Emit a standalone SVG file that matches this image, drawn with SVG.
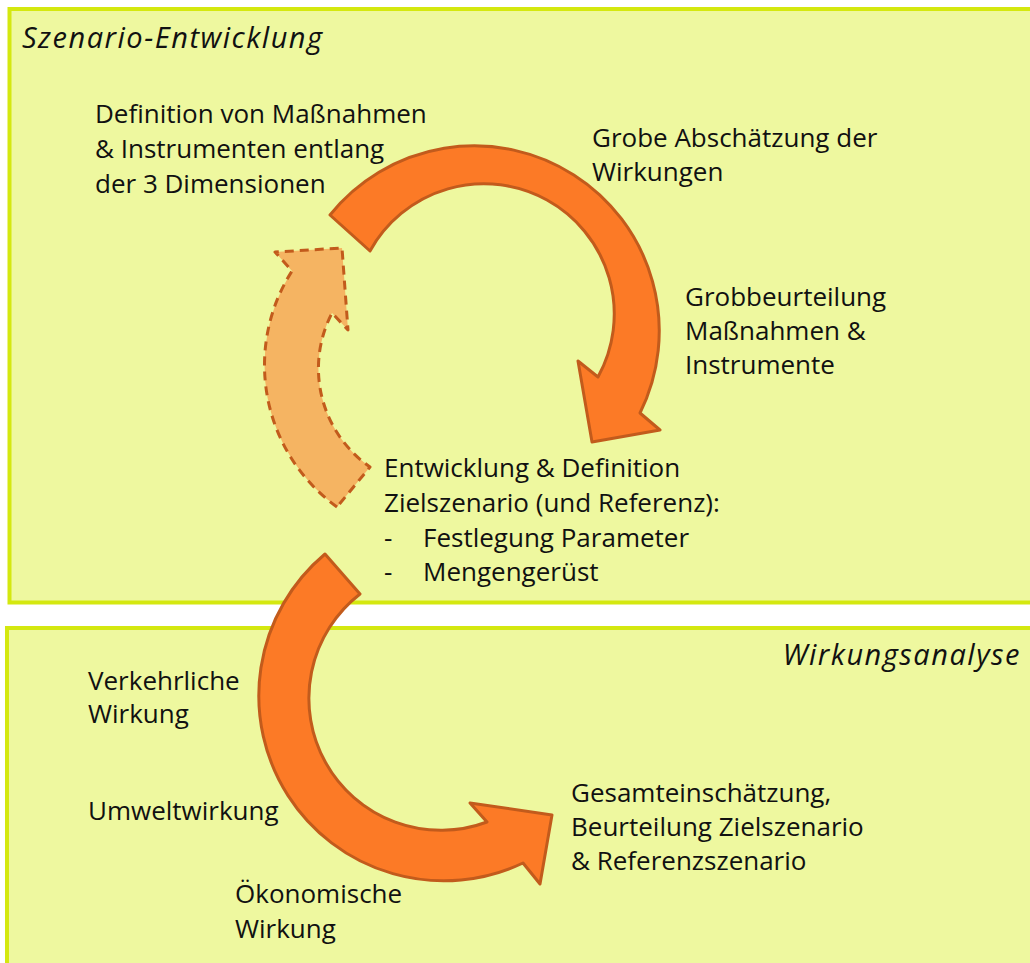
<svg xmlns="http://www.w3.org/2000/svg" width="1030" height="963" viewBox="0 0 1030 963">
<style>
.box{fill:#EEF89F;stroke:#D4E80F;stroke-width:4}
.t{font-family:"Open Sans","Liberation Sans",sans-serif;font-size:26px;fill:#111}
.ti{font-family:"Open Sans","Liberation Sans",sans-serif;font-size:29px;font-style:italic;letter-spacing:1.5px;fill:#111}
.arr{fill:#FC7A26;stroke:#C25B1C;stroke-width:3;stroke-linejoin:round}
.arrd{fill:#F5B462;stroke:#C25B1C;stroke-width:3;stroke-dasharray:9 6;stroke-linejoin:round}
</style>
<rect width="1030" height="963" fill="#FFFFFF"/>
<g id="box-szenario">
<rect class="box" x="9.5" y="9" width="1030" height="593.5"/>
<text class="ti" x="22" y="48">Szenario-Entwicklung</text>
</g>
<g id="box-wirkung">
<rect class="box" x="7" y="628" width="1030" height="345"/>
<text class="ti" x="1021" y="665" text-anchor="end">Wirkungsanalyse</text>
</g>
<g id="connectors">
<path id="arrow-top" class="arr" d="M330,215 A185,185 0 0 1 640,413 L660,430 L592,442 L578,361 L598,377 A128,128 0 0 0 370,251 Z"/>
<path id="arrow-left" class="arrd" d="M337,507 A175,175 0 0 1 292,271 L275,252 L342,248 L348,330 L332,313 A120,120 0 0 0 370,467 Z"/>
<path id="arrow-bottom" class="arr" d="M325,554 A185,185 0 0 0 523,863 L540,884 L552,815 L470,803 L487,822 A132,132 0 0 1 360,594 Z"/>
</g>
<g id="node-definition">
<text class="t" x="95" y="123">Definition von Maßnahmen</text>
<text class="t" x="95" y="158">&amp; Instrumenten entlang</text>
<text class="t" x="95" y="193">der 3 Dimensionen</text>
</g>
<g id="node-grobe">
<text class="t" x="592" y="147">Grobe Abschätzung der</text>
<text class="t" x="592" y="181">Wirkungen</text>
</g>
<g id="node-grobbeurteilung">
<text class="t" x="685" y="306">Grobbeurteilung</text>
<text class="t" x="685" y="340">Maßnahmen &amp;</text>
<text class="t" x="685" y="374">Instrumente</text>
</g>
<g id="node-entwicklung">
<text class="t" x="384" y="477">Entwicklung &amp; Definition</text>
<text class="t" x="384" y="512">Zielszenario (und Referenz):</text>
<text class="t" x="384" y="547">-</text>
<text class="t" x="423" y="547">Festlegung Parameter</text>
<text class="t" x="384" y="581">-</text>
<text class="t" x="423" y="581">Mengengerüst</text>
</g>
<g id="node-verkehr">
<text class="t" x="88" y="690">Verkehrliche</text>
<text class="t" x="88" y="723">Wirkung</text>
</g>
<g id="node-umwelt">
<text class="t" x="88" y="820">Umweltwirkung</text>
</g>
<g id="node-oekonomie">
<text class="t" x="235" y="903">Ökonomische</text>
<text class="t" x="235" y="938">Wirkung</text>
</g>
<g id="node-gesamt">
<text class="t" x="571" y="802">Gesamteinschätzung,</text>
<text class="t" x="571" y="836">Beurteilung Zielszenario</text>
<text class="t" x="571" y="870">&amp; Referenzszenario</text>
</g>
</svg>
